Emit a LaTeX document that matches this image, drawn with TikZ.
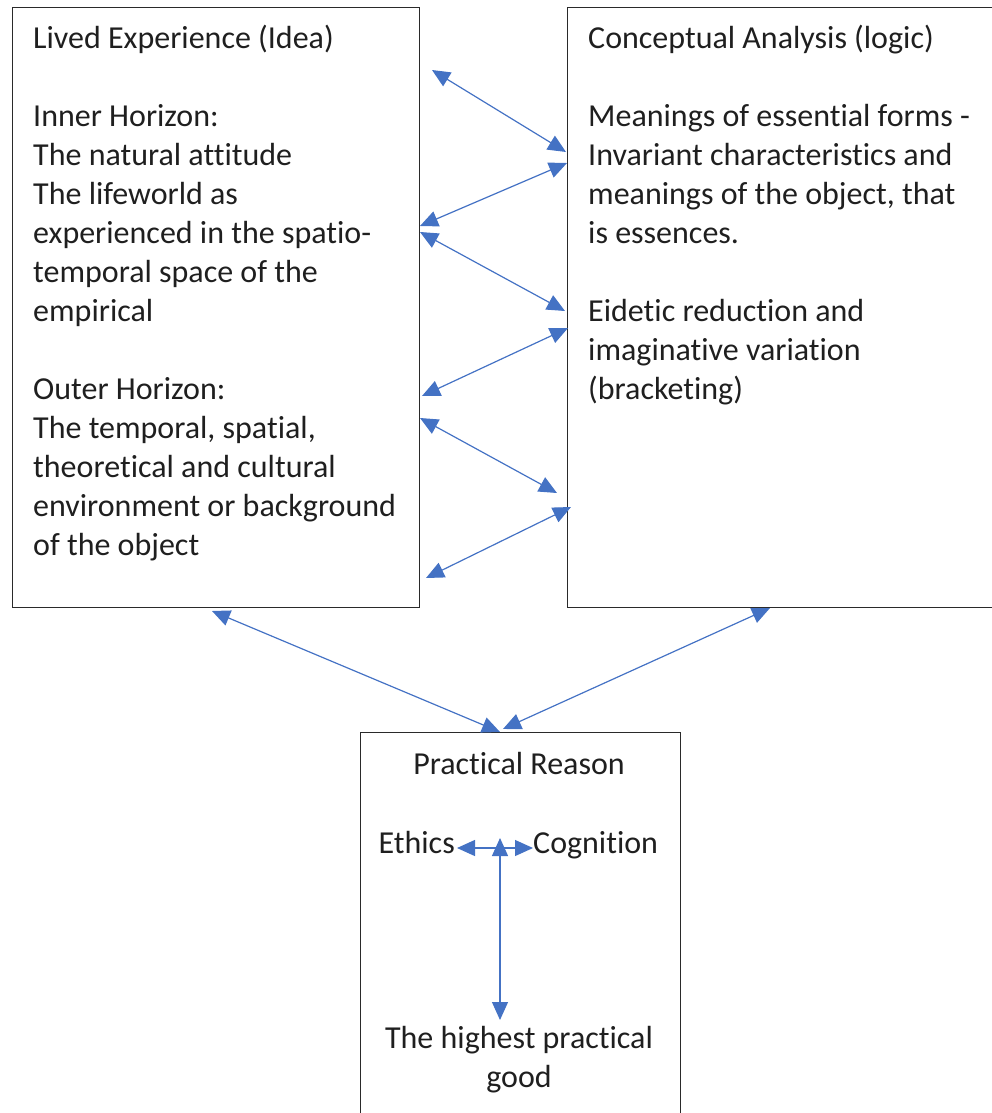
\documentclass[tikz,border=0pt]{standalone}
\usepackage{fontspec}
\setmainfont{Carlito}[Ligatures={NoCommon,NoContextual}]
\usetikzlibrary{arrows.meta}
\definecolor{arrowblue}{HTML}{4472C4}
\definecolor{boxline}{HTML}{2A2A2A}
\begin{document}
\begin{tikzpicture}[x=1pt,y=-1pt,
  box/.style={draw=boxline,line width=1.4pt,fill=none,inner sep=0pt,anchor=north west},
  txt/.style={inner sep=0pt,anchor=base west,align=left,text=black!88,font=\fontsize{32}{39}\selectfont},
  ctxt/.style={inner sep=0pt,anchor=base,align=center,text=black!88,font=\fontsize{32}{39}\selectfont},
  link/.style={draw=arrowblue,line width=1.2pt,{Triangle[length=18pt,width=16pt]}-{Triangle[length=18pt,width=16pt]},arrowblue}]
\useasboundingbox (0,0) rectangle (992,1113);
\clip (0,0) rectangle (992,1113);
% boxes
\node[box,minimum width=407pt,minimum height=600pt] (L) at (12,7) {};
\node[box,minimum width=424.5pt,minimum height=600pt] (R) at (567,7) {};
\node[box,minimum width=320pt,minimum height=420pt] (P) at (360,732) {};
% texts (base anchor = baseline of the last line)
\node[txt] (Ltext) at (33,555) {Lived Experience (Idea)\\[39pt]Inner Horizon:\\The natural attitude\\The lifeworld as\\experienced in the spatio-\\temporal space of the\\empirical\\[39pt]Outer Horizon:\\The temporal, spatial,\\theoretical and cultural\\environment or background\\of the object};
\node[txt] (Rtext) at (588,399) {Conceptual Analysis (logic)\\[39pt]Meanings of essential forms -\\Invariant characteristics and\\meanings of the object, that\\is essences.\\[39pt]Eidetic reduction and\\imaginative variation\\(bracketing)};
\node[ctxt] (PR) at (519,774) {Practical Reason};
\node[ctxt,anchor=base east] (E) at (455,853) {Ethics};
\node[ctxt,anchor=base west] (C) at (533,853) {Cognition};
\node[ctxt] (G) at (519,1087) {The highest practical\\good};
% arrow end points
\coordinate (a1s) at (432,70);  \coordinate (a1e) at (566,152);
\coordinate (a2s) at (567,163); \coordinate (a2e) at (420,226);
\coordinate (a3s) at (420,232); \coordinate (a3e) at (565,311);
\coordinate (a4s) at (568,328); \coordinate (a4e) at (422,396);
\coordinate (a5s) at (420,418); \coordinate (a5e) at (557,493);
\coordinate (a6s) at (571,507); \coordinate (a6e) at (426,578);
\coordinate (b1s) at (212,611); \coordinate (b1e) at (500,732);
\coordinate (b2s) at (770,608); \coordinate (b2e) at (503,729);
\coordinate (vtop) at (500,838); \coordinate (vbot) at (500,1020);
\coordinate (hl) at (457,848); \coordinate (hr) at (533,848);
% connectors
\draw[link] (a1s) -- (a1e);
\draw[link] (a2s) -- (a2e);
\draw[link] (a3s) -- (a3e);
\draw[link] (a4s) -- (a4e);
\draw[link] (a5s) -- (a5e);
\draw[link] (a6s) -- (a6e);
\draw[link] (b1s) -- (b1e);
\draw[link] (b2s) -- (b2e);
\draw[link] (hl) -- (hr);
\draw[link] (vtop) -- (vbot);
\end{tikzpicture}
\end{document}
